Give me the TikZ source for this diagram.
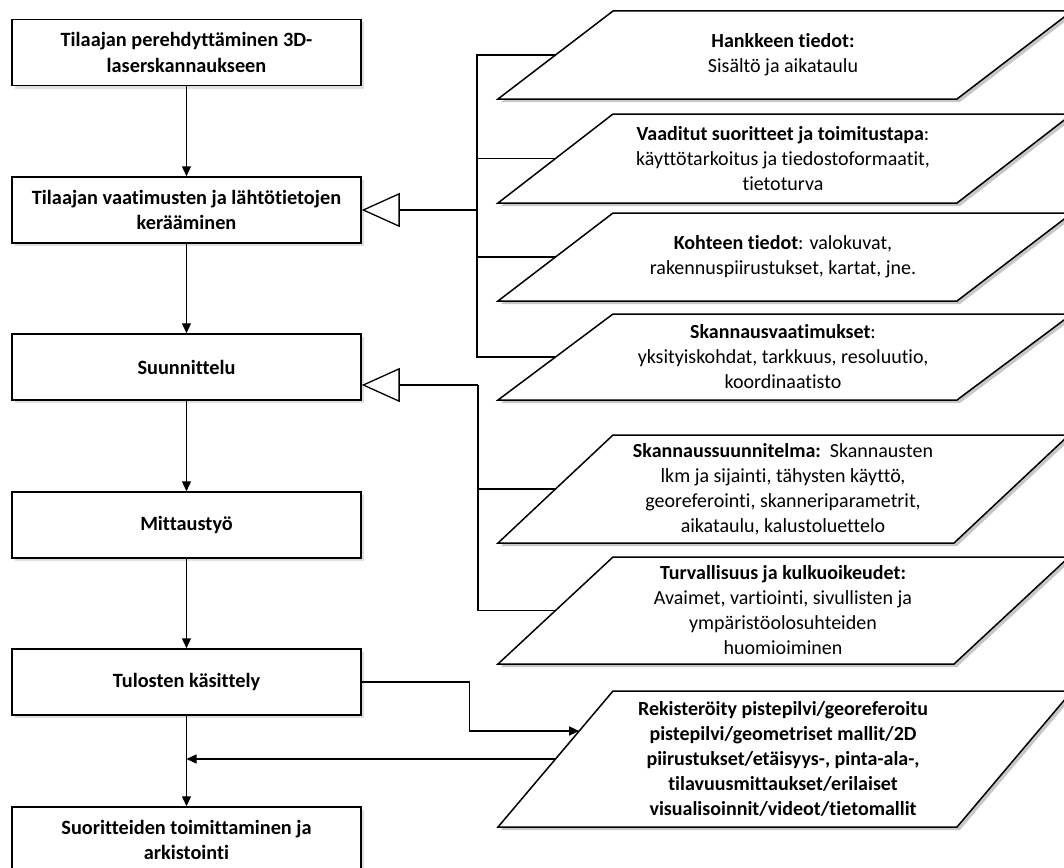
\documentclass[tikz,border=0pt]{standalone}
\usepackage{fontspec}
\setmainfont{Carlito}[Ligatures=NoCommon]
\usetikzlibrary{arrows.meta,shadows,calc}
\newcommand\paragram[5]{% name, ytop, ybot, xbotright, text
  \coordinate (#1bl) at (498,#3);
  \coordinate (#1tl) at (613,#2);
  \coordinate (#1tr) at (#4+115,#2);
  \coordinate (#1br) at (#4,#3);
  \fill[black!22] ($(#1bl)+(3,3)$) -- ($(#1tl)+(3,3)$) -- ($(#1tr)+(3,3)$) -- ($(#1br)+(3,3)$) -- cycle;
  \draw[line width=1.5pt, fill=white, line join=miter] (#1bl) -- (#1tl) -- (#1tr) -- (#1br) -- cycle;
  \coordinate (#1w) at ($(#1bl)!0.5!(#1tl)$);
  \node[ptext] (#1) at (783,{(#2+#3)/2}) {#5};
}
\begin{document}
\begin{tikzpicture}[x=1pt,y=-1pt,
  font=\fontsize{20}{25}\selectfont,
  stepbox/.style={draw, line width=1.5pt, fill=white, minimum width=349pt, minimum height=66pt,
    inner sep=0pt, align=center, font=\fontsize{20.3}{25.5}\selectfont\bfseries,
    drop shadow={shadow xshift=3pt, shadow yshift=-3pt, opacity=0.25}},
  ptext/.style={align=center, inner sep=0pt, font=\fontsize{20}{25}\selectfont},
  flow/.style={line width=1.3pt, -{Triangle[length=10pt,width=9pt]}},
  link/.style={line width=1.3pt},
  inherit/.style={line width=1.3pt, -{Triangle[open,length=38pt,width=34pt,fill=white]}}
]
\useasboundingbox (0,0) rectangle (1064,867);

% left process boxes
\node[stepbox] (b1) at (186.5,52.5) {Tilaajan perehdyttäminen 3D-\\laserskannaukseen};
\node[stepbox] (b2) at (186.5,210) {Tilaajan vaatimusten ja lähtötietojen\\kerääminen};
\node[stepbox] (b3) at (186.5,367) {Suunnittelu};
\node[stepbox] (b4) at (186.5,525) {Mittaustyö};
\node[stepbox] (b5) at (186.5,682) {Tulosten käsittely};
\node[stepbox] (b6) at (186.5,840) {Suoritteiden toimittaminen ja\\arkistointi};

% right data parallelograms
\paragram{p1}{11}{99}{957}{\textbf{Hankkeen tiedot:}\\Sisältö ja aikataulu}
\paragram{p2}{114}{203}{957}{\textbf{Vaaditut suoritteet ja toimitustapa}:\\käyttötarkoitus ja tiedostoformaatit,\\tietoturva}
\paragram{p3}{213}{301}{957}{\textbf{Kohteen tiedot}: valokuvat,\\rakennuspiirustukset, kartat, jne.}
\paragram{p4}{314}{400}{957}{\textbf{Skannausvaatimukset}:\\yksityiskohdat, tarkkuus, resoluutio,\\koordinaatisto}
\paragram{p5}{435}{543}{954}{\textbf{Skannaussuunnitelma:}\ \ Skannausten\\lkm ja sijainti, tähysten käyttö,\\georeferointi, skanneriparametrit,\\aikataulu, kalustoluettelo}
\paragram{p6}{557}{664}{954}{\textbf{Turvallisuus ja kulkuoikeudet:}\\Avaimet, vartiointi, sivullisten ja\\ympäristöolosuhteiden\\huomioiminen}
\paragram{p7}{691}{827}{957}{\bfseries Rekisteröity pistepilvi/georeferoitu\\\bfseries pistepilvi/geometriset mallit/2D\\\bfseries piirustukset/etäisyys-, pinta-ala-,\\\bfseries tilavuusmittaukset/erilaiset\\\bfseries visualisoinnit/videot/tietomallit}

% main flow
\draw[flow] (b1) -- (b2);
\draw[flow] (b2) -- (b3);
\draw[flow] (b3) -- (b4);
\draw[flow] (b4) -- (b5);
\draw[flow] (b5) -- (b6);

% inputs to b2
\coordinate (tA) at (477,0);
\draw[link] (p1w) -- (p1w -| tA) -- (p4w -| tA) -- (p4w);
\draw[link] (p2w) -- (p2w -| tA);
\draw[link] (p3w) -- (p3w -| tA);
\draw[inherit] (b2.east -| tA) -- (b2.east);

% inputs to b3
\coordinate (tB) at (478,0);
\coordinate (b3in) at ($(b3.east)+(0,18)$);
\draw[link] (b3in -| tB) -- (p6w -| tB) -- (p6w);
\draw[link] (p5w) -- (p5w -| tB);
\draw[inherit] (b3in -| tB) -- (b3in);

% results
\coordinate (p7in) at ($(p7bl)!0.706!(p7tl)$);
\draw[flow] (b5.east) -- ++(108,0) |- (p7in);
\draw[flow] (p7w) -- (p7w -| b5.south);
\end{tikzpicture}
\end{document}
